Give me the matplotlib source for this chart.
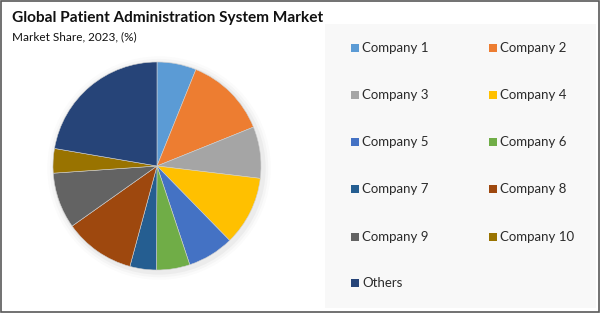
import matplotlib.pyplot as plt
from matplotlib.patches import Rectangle

plt.rcParams['font.family'] = ['Lato', 'DejaVu Sans']

companies = ['Company 1', 'Company 2', 'Company 3', 'Company 4', 'Company 5',
             'Company 6', 'Company 7', 'Company 8', 'Company 9', 'Company 10', 'Others']
shares = [6.1, 12.8, 8.0, 10.8, 7.2, 5.2, 4.1, 11.0, 8.7, 3.8, 22.3]
colors = ['#5B9BD5', '#ED7D31', '#A5A5A5', '#FFC000', '#4472C4', '#70AD47',
          '#255E91', '#9E480E', '#636363', '#997300', '#264478']

fig = plt.figure(figsize=(6, 3.13), dpi=100)
fig.patch.set_facecolor('white')

# border + legend panel
fig.patches.append(Rectangle((0.001, 0.002), 0.997, 0.995, transform=fig.transFigure,
                             fill=False, edgecolor='#595959', linewidth=1.2))
fig.patches.append(Rectangle((325 / 600, 1 - 308 / 313), 271 / 600, 284 / 313,
                             transform=fig.transFigure, facecolor='#f8f8f8',
                             edgecolor='none', zorder=0))

fig.text(12 / 600, 1 - 18 / 313, 'Global Patient Administration System Market',
         fontsize=11.1, fontweight='bold', va='center', ha='left', color='#111111')
fig.text(12 / 600, 1 - 37 / 313, 'Market Share, 2023, (%)',
         fontsize=8.5, va='center', ha='left', color='#111111')

# pie
cx, cy, r = 157 / 600, 1 - 166 / 313, 104
ax = fig.add_axes([cx - 1.1 * r / 600, cy - 1.1 * r / 313, 2.2 * r / 600, 2.2 * r / 313])
# soft shadow
for i, a in enumerate([0.035, 0.025, 0.015]):
    ax.add_patch(plt.Circle((0.02, -0.02), 1.0 + 0.025 * (i + 1), color='black',
                            alpha=a, linewidth=0, zorder=0))
ax.pie(shares, colors=colors, startangle=90, counterclock=False, radius=1,
       wedgeprops=dict(linewidth=0.4, edgecolor='#d0d0d0'))
ax.set_xlim(-1.1, 1.1)
ax.set_ylim(-1.1, 1.1)
ax.set_aspect('auto')
ax.axis('off')

# legend
col_x = [351, 489]
row_y = [48, 95, 142, 189, 237, 283]
for i, (name, c) in enumerate(zip(companies, colors)):
    x = col_x[i % 2]
    y = row_y[i // 2]
    fig.patches.append(Rectangle((x / 600, 1 - (y + 4) / 313), 8 / 600, 8 / 313,
                                 transform=fig.transFigure, facecolor=c, edgecolor='none'))
    fig.text((x + 11) / 600, 1 - y / 313, name, fontsize=9.5, va='center', ha='left',
             color='#2b2b2b')

fig.savefig('out.png', dpi=100)
